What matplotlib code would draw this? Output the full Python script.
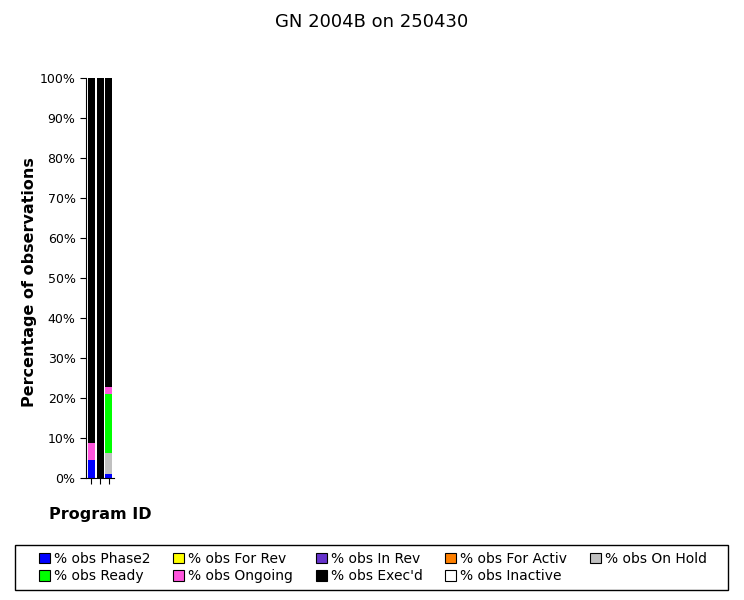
import matplotlib
matplotlib.use("Agg")
import matplotlib.pyplot as plt
import numpy as np

# program ids (no labels shown on the chart)
programs = ["", "", ""]

labels = ["% obs Phase2", "% obs For Rev", "% obs In Rev", "% obs For Activ", "% obs On Hold",
          "% obs Ready", "% obs Ongoing", "% obs Exec'd", "% obs Inactive"]
colors = ["#0000ff", "#ffff00", "#6633cc", "#ff8000", "#c0c0c0",
          "#00ff00", "#ff55dd", "#000000", "#ffffff"]

phase2 = [4.5, 0.0, 1.0]
for_rev = [0.0, 0.0, 0.0]
in_rev = [0.0, 0.0, 0.0]
for_activ = [0.0, 0.0, 0.0]
on_hold = [0.0, 0.0, 5.2]
ready = [0.0, 0.0, 14.7]
ongoing = [4.2, 0.0, 1.9]
execd = [91.3, 100.0, 77.2]
inactive = [0.0, 0.0, 0.0]

series = [phase2, for_rev, in_rev, for_activ, on_hold, ready, ongoing, execd, inactive]

fig = plt.figure(figsize=(7.44, 6.0), dpi=100)
ax = fig.add_axes([86 / 744, 1 - 478 / 600, 28 / 744, 400 / 600])

x = np.arange(len(programs))
bottom = np.zeros(len(programs))
for vals, col, lab in zip(series, colors, labels):
    vals = np.array(vals)
    ax.bar(x, vals, width=0.8, bottom=bottom, color=col, label=lab, linewidth=0)
    bottom += vals

ax.set_xlim(-0.6, len(programs) - 0.4)
ax.set_ylim(0, 100)
ax.set_yticks(np.arange(0, 101, 10))
ax.set_yticklabels([f"{v}%" for v in range(0, 101, 10)], fontsize=9)
ax.set_xticks(x)
ax.set_xticklabels(programs)
ax.tick_params(axis="both", length=4, width=0.8)
ax.spines["top"].set_visible(False)
ax.spines["right"].set_visible(False)

fig.text(0.5, 1 - 22 / 600, "GN 2004B on 250430", ha="center", va="center", fontsize=13)
fig.text(0.04, 0.53, "Percentage of observations", rotation=90, ha="center", va="center",
         fontsize=11.5, fontweight="bold")
fig.text(100 / 744, 1 - 515 / 600, "Program ID", ha="center", va="center",
         fontsize=11.5, fontweight="bold")

# legend box drawn separately so the entries can be spread across it
fig.patches.append(plt.Rectangle((15 / 744, 1 - 590 / 600), 713 / 744, 45 / 600,
                                 transform=fig.transFigure, facecolor="none",
                                 edgecolor="black", linewidth=1.0))

# legend fills column by column, so reorder to get the row-wise layout
order = [0, 5, 1, 6, 2, 7, 3, 8, 4]
handles = [plt.Rectangle((0, 0), 1, 1, facecolor=colors[i], edgecolor="black", linewidth=0.8) for i in order]
leg = fig.legend(handles, [labels[i] for i in order], ncol=5, loc="center",
                 bbox_to_anchor=(28 / 744, 1 - 590 / 600, 690 / 744, 45 / 600), mode="expand",
                 fontsize=10, frameon=False,
                 handlelength=0.8, handleheight=0.8, handletextpad=0.3, columnspacing=1.0,
                 borderpad=0.3, labelspacing=0.25)

fig.savefig("out.png", dpi=100)
